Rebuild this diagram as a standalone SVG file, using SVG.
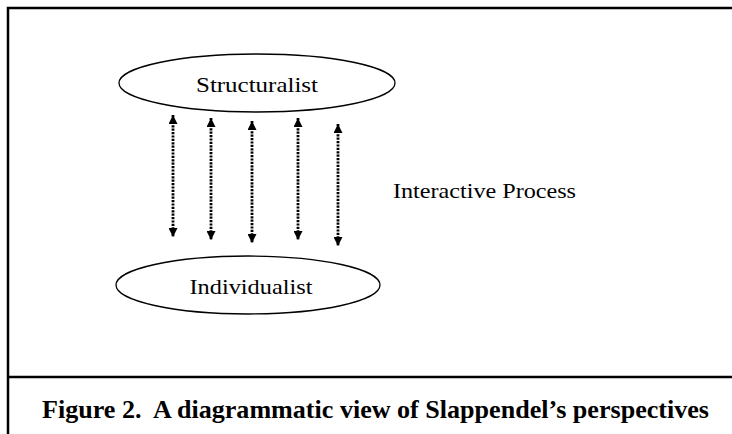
<svg xmlns="http://www.w3.org/2000/svg" width="732" height="434" viewBox="0 0 732 434">
<style>
.frame{stroke:#000;stroke-width:2.5;fill:none}
.node{fill:#fff;stroke:#000;stroke-width:1.3}
.lbl{font-family:"Liberation Serif","Times New Roman",serif;font-size:21px;fill:#000}
.cap{font-family:"Liberation Serif","Times New Roman",serif;font-size:26px;font-weight:bold;fill:#000;white-space:pre}
.arr{stroke:#000;stroke-width:2.8;stroke-dasharray:2.2 1.2;fill:none;marker-start:url(#ah);marker-end:url(#ah)}
</style>
<defs>
<marker id="ah" markerUnits="userSpaceOnUse" viewBox="0 0 10 10" refX="10" refY="5" markerWidth="9" markerHeight="9" orient="auto-start-reverse">
<path d="M0,0 L10,5 L0,10 z" fill="#000"/>
</marker>
</defs>
<rect width="732" height="434" fill="#fff"/>
<g id="frame">
<path class="frame" d="M8,434 V8 H732"/>
<path class="frame" d="M8,377 H732"/>
</g>
<g id="structuralist">
<ellipse class="node" cx="257" cy="83" rx="138" ry="29"/>
<text class="lbl" x="257" y="92" text-anchor="middle" textLength="122" lengthAdjust="spacingAndGlyphs">Structuralist</text>
</g>
<g id="individualist">
<ellipse class="node" cx="248" cy="285" rx="132" ry="29"/>
<text class="lbl" x="251" y="294" text-anchor="middle" textLength="123" lengthAdjust="spacingAndGlyphs">Individualist</text>
</g>
<g id="interactive-process">
<text class="lbl" x="393" y="198" textLength="183" lengthAdjust="spacingAndGlyphs">Interactive Process</text>
</g>
<g id="connectors">
<line class="arr" x1="173" y1="115" x2="173" y2="237"/>
<line class="arr" x1="211" y1="118" x2="211" y2="240"/>
<line class="arr" x1="252" y1="121" x2="252" y2="243"/>
<line class="arr" x1="298" y1="118" x2="298" y2="240"/>
<line class="arr" x1="338" y1="124" x2="338" y2="246"/>
</g>
<g id="caption">
<text class="cap" x="42" y="418" textLength="667" lengthAdjust="spacingAndGlyphs" xml:space="preserve">Figure 2.  A diagrammatic view of Slappendel’s perspectives</text>
</g>
</svg>
